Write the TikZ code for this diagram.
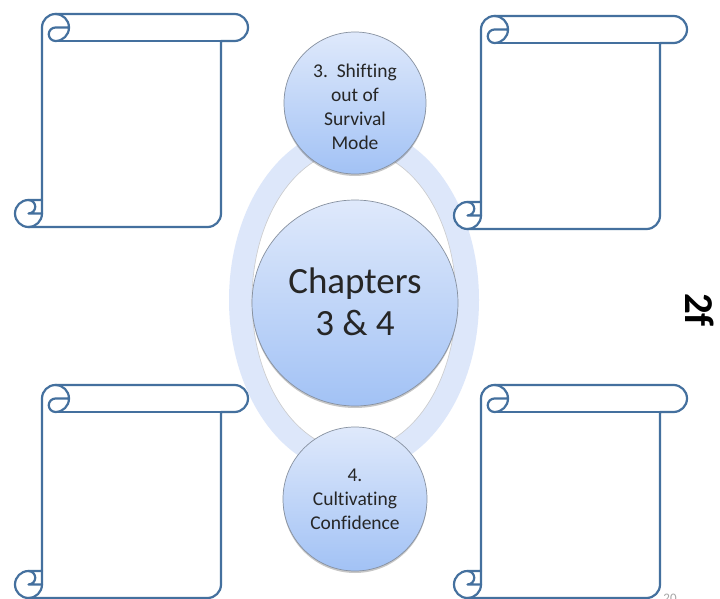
\documentclass[tikz,border=0pt]{standalone}
\usepackage{fontspec}
\setmainfont{Carlito}[Ligatures={NoCommon,NoContextual}]
\usetikzlibrary{shadows}

\definecolor{scrollline}{RGB}{68,112,158}
\definecolor{ringblue}{RGB}{221,231,250}
\definecolor{bubbletop}{RGB}{223,233,251}
\definecolor{bubblebottom}{RGB}{162,194,245}
\definecolor{bubbleedge}{RGB}{135,145,160}
\definecolor{labeltext}{RGB}{38,38,38}

\tikzset{
  bubble/.style={circle, draw=bubbleedge, line width=0.7pt,
    top color=bubbletop, bottom color=bubblebottom, inner sep=0pt,
    drop shadow={shadow xshift=0pt, shadow yshift=-2pt, opacity=0.22, fill=black}},
  bubbletext/.style={align=center, text=labeltext, inner sep=0pt},
  smalltext/.style={bubbletext, font=\fontsize{19.5}{24}\selectfont},
  bigtext/.style={bubbletext, font=\fontsize{37}{42}\selectfont},
  scrollstroke/.style={draw=scrollline, line width=2.2pt, line join=round, line cap=round},
  % vertical scroll, 233 x 213, anchored at its top-left corner (y grows downward)
  scroll/.pic={
    \fill[white] (27,186) -- (27,13.5) arc[start angle=180, delta angle=90, radius=13.5]
      -- (219.5,0) arc[start angle=270, delta angle=180, radius=13.5]
      -- (206,27) -- (206,199.5) arc[start angle=0, delta angle=90, radius=13.5]
      -- (13.5,213) arc[start angle=90, delta angle=180, radius=13.5] -- cycle;
    \fill[white] (40.5,13.5) circle[radius=13.5];
    \path[scrollstroke] (27,186) -- (27,13.5) arc[start angle=180, delta angle=90, radius=13.5]
      -- (219.5,0) arc[start angle=270, delta angle=180, radius=13.5]
      -- (206,27) -- (206,199.5) arc[start angle=0, delta angle=90, radius=13.5]
      -- (13.5,213) arc[start angle=90, delta angle=180, radius=13.5] -- cycle;
    \path[scrollstroke] (40.5,0) arc[start angle=270, delta angle=180, radius=13.5]
      arc[start angle=90, delta angle=180, radius=6.75] -- (54,13.5);
    \path[scrollstroke] (206,27) -- (40.5,27);
    \path[scrollstroke] (13.5,186) arc[start angle=270, delta angle=180, radius=6.75] -- (27,199.5);
    \path[scrollstroke] (13.5,213) arc[start angle=90, delta angle=-90, radius=13.5] -- (27,186);
  }
}

\begin{document}
\begin{tikzpicture}[x=1pt, y=-1pt]
  \useasboundingbox (0,0) rectangle (720,599);
  \clip (0,0) rectangle (720,599);
  \fill[white] (0,0) rectangle (720,599);

  % ring joining the three circles
  \draw[ringblue, line width=23pt] (354,300) ellipse[x radius=113.5, y radius=162];
  \draw[gray!40, line width=0.6pt] (354,300) ellipse[x radius=102, y radius=150.5];

  % circles
  \node[bubble, minimum size=206pt] (hub) at (355,303) {};
  \node[bubble, minimum size=142pt] (shift) at (355,103) {};
  \node[bubble, minimum size=144pt] (confidence) at (355,499) {};

  % circle labels
  \node[bigtext] (hubtext) at ([yshift=1pt]hub.center) {Chapters\\3 \& 4};
  \node[smalltext] (shifttext) at ([yshift=-4pt]shift.center) {3.\ \ Shifting\\out of\\Survival\\Mode};
  \node[smalltext] (confidencetext) at (confidence.center) {4.\\Cultivating\\Confidence};

  % four empty scrolls
  \pic at (15,14) {scroll};
  \pic at (454,16) {scroll};
  \pic at (15,385) {scroll};
  \pic at (454,385) {scroll};

  % side label and slide number
  \node[rotate=-90, font=\bfseries\fontsize{41}{46}\selectfont, text=black] (tag) at (699.5,310) {2f};
  \node[font=\fontsize{13}{15}\selectfont, text=gray!70] (pageno) at (670,598) {20};
\end{tikzpicture}
\end{document}
